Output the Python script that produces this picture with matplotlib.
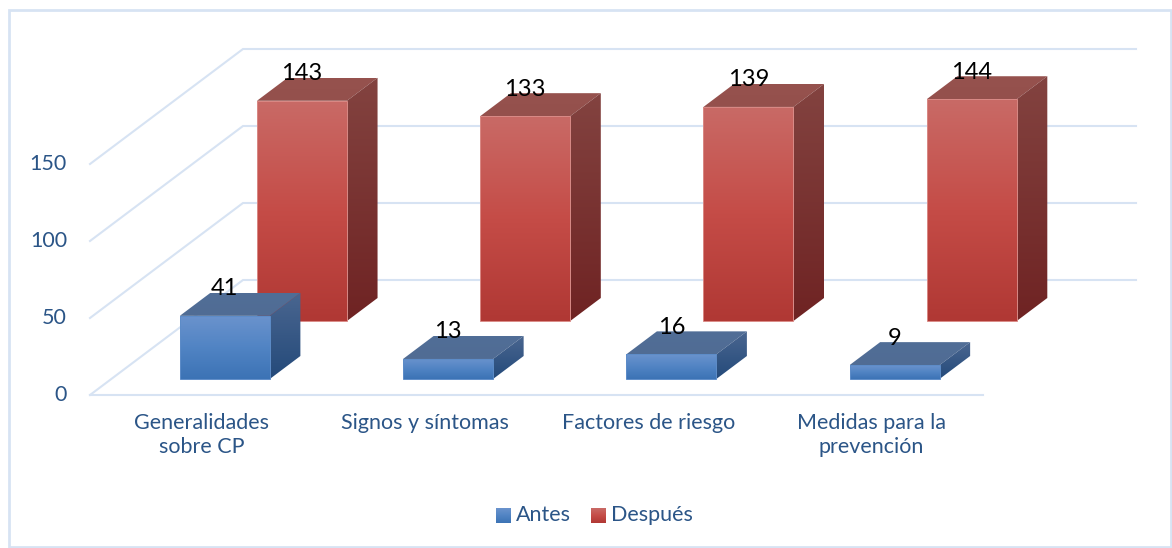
import numpy as np
import matplotlib
matplotlib.use('Agg')
import matplotlib.pyplot as plt
from matplotlib.colors import LinearSegmentedColormap
from matplotlib.patches import Polygon, Rectangle

categories = ['Generalidades\nsobre CP', 'Signos y síntomas', 'Factores de riesgo', 'Medidas para la\nprevención']
antes = [41, 13, 16, 9]
despues = [143, 133, 139, 144]
series_names = ['Antes', 'Después']
value_ticks = [0, 50, 100, 150]

plt.rcParams['font.family'] = ['Lato', 'DejaVu Sans']

W, H = 1172, 548
GRID = '#d7e3f3'
TXT = '#2b5587'

# pixel layout of the fake 3d box
x0, y0 = 90, 395      # front left corner, value 0
cat_px = 223.25
val_px = 1.54
depth_x, depth_y = 153, 115

blue = {'front': ['#6b93cd', '#5184c4', '#3c73b5'], 'top': ['#516e97', '#506c94'],
        'side': ['#4a6690', '#244a7a'], 'edge': '#5d8cc8'}
red = {'front': ['#c96a66', '#c54c47', '#b03834'], 'top': ['#96524e', '#94504c'],
       'side': ['#834340', '#6f2323'], 'edge': '#d98a86'}

fig = plt.figure(figsize=(W / 100, H / 100), dpi=100)
ax = fig.add_axes([0, 0, 1, 1])
ax.set_xlim(-x0 / cat_px, (W - x0) / cat_px)
ax.set_ylim(-(H - y0) / val_px, y0 / val_px)
ax.set_autoscale_on(False)
ax.axis('off')


def pr(x, v, d=0.0):
    # category units, value, depth fraction -> axes data
    return x + d * depth_x / cat_px, v + d * depth_y / val_px


def px(x, y):
    return (x - x0) / cat_px, (y0 - y) / val_px


def face(pts, colors, z, edge=None):
    pts = np.array(pts)
    cmap = LinearSegmentedColormap.from_list('f', colors)
    grad = np.linspace(0, 1, 128).reshape(-1, 1)
    ext = (pts[:, 0].min(), pts[:, 0].max(), pts[:, 1].min(), pts[:, 1].max())
    im = ax.imshow(grad, extent=ext, aspect='auto', cmap=cmap, vmin=0, vmax=1, zorder=z, origin='upper')
    im.set_clip_path(Polygon(pts, closed=True, transform=ax.transData))
    if edge:
        ax.add_patch(Polygon(pts, closed=True, fill=False, edgecolor=edge, lw=0.7, zorder=z + 0.01))


def bar3d(i, v, d0, pal, z):
    inset = 68.5 / cat_px
    w = 90 / cat_px
    dd = 23 / depth_y
    l, r = i + inset, i + inset + w
    face([pr(l, v, d0), pr(l, v, d0 + dd), pr(r, v, d0 + dd), pr(r, v, d0)], pal['top'], z)
    face([pr(r, 0, d0), pr(r, v, d0), pr(r, v, d0 + dd), pr(r, 0, d0 + dd)], pal['side'], z)
    face([pr(l, 0, d0), pr(l, v, d0), pr(r, v, d0), pr(r, 0, d0)], pal['front'], z + 0.1, edge=pal['edge'])
    tx, ty = pr((l + r) / 2, v, d0)
    ax.text(tx, ty + 27 / val_px, str(v), ha='center', va='center', fontsize=17, color='black', zorder=20)


# chart frame
fig.add_artist(Rectangle((9.5 / W, 1 - 547 / H), 1161 / W, 537 / H, fill=False, edgecolor=GRID,
                         lw=2, transform=fig.transFigure))

# walls and floor
n = len(categories)
for v in value_ticks:
    ax.plot(*zip(pr(0, v), pr(0, v, 1), pr(n, v, 1)), color=GRID, lw=1.5, zorder=1, solid_joinstyle='miter')
    ax.text(*px(67, 0)[:1], v, str(v), ha='right', va='center', fontsize=15.5, color=TXT)
ax.plot(*zip(pr(0, 0), pr(n, 0)), color=GRID, lw=1.5, zorder=1)

for i in range(n):
    bar3d(i, despues[i], 74 / depth_y, red, 3 + i * 0.5)
for i in range(n):
    bar3d(i, antes[i], 16 / depth_y, blue, 6 + i * 0.5)

for i, c in enumerate(categories):
    ax.text(i + 0.5, px(0, 413)[1], c, ha='center', va='top', fontsize=15.5, color=TXT, linespacing=1.22)

# legend
for sq, tx, name, pal in [(496, 516, series_names[0], blue), (591, 611, series_names[1], red)]:
    a, b = px(sq, 523), px(sq + 14.5, 508)
    face([a, (b[0], a[1]), b, (a[0], b[1])], pal['front'], 10)
    ax.text(*px(tx, 515), name, ha='left', va='center', fontsize=15.5, color=TXT)

fig.savefig('out.png', dpi=100)
